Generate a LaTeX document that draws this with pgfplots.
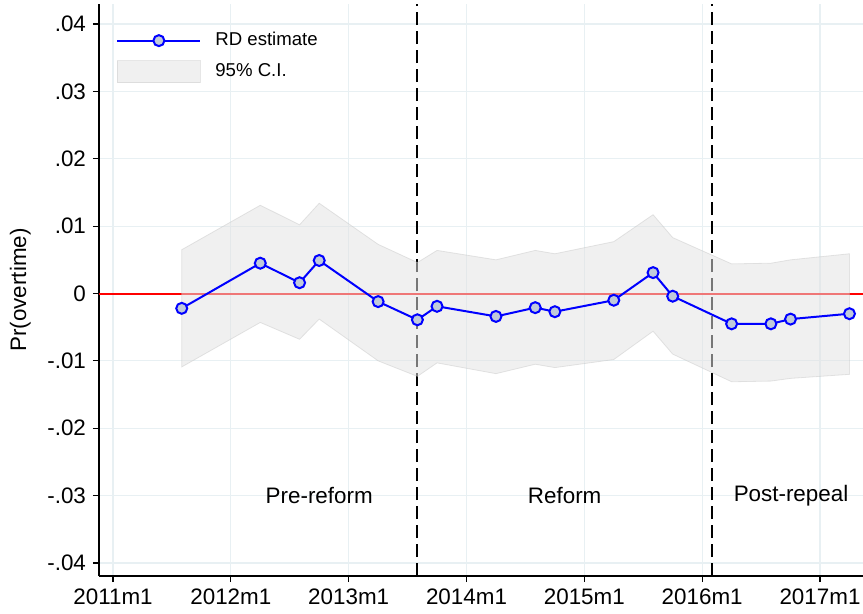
\documentclass[border=0pt]{standalone}
\usepackage{fontspec}
\setmainfont{Liberation Sans}
\usepackage{pgfplots}
\usepackage{pgfplotstable}
\pgfplotsset{compat=1.18}
\definecolor{gridc}{RGB}{232,240,243}
\definecolor{bandc}{RGB}{226,226,226}
\definecolor{mkfill}{RGB}{192,202,218}
\definecolor{zeroc}{RGB}{255,0,0}
\pgfplotsset{
  rdleg/.style={legend image code/.code={\draw[blue, line width=1pt, mark=*, mark size=2.75pt, mark options={fill=mkfill, draw=blue, line width=1pt}, mark repeat=2, mark phase=2] plot coordinates {(0pt,0pt) (20.75pt,0pt) (41.5pt,0pt)};}},
  cileg/.style={legend image code/.code={\draw[fill=bandc, fill opacity=0.53, draw=bandc!85!black, draw opacity=0.4] (0pt,-5.5pt) rectangle (41.5pt,5.5pt);}},
}
\pgfplotstableread{
m est
7 -0.0022
15 0.0045
19 0.0016
21 0.0049
27 -0.0012
31 -0.0039
33 -0.0019
39 -0.0034
43 -0.0021
45 -0.0027
51 -0.0010
55 0.0031
57 -0.0004
63 -0.0045
67 -0.0045
69 -0.0038
75 -0.0030
}\data
% 95% C.I. band: upper bounds left to right, then lower bounds right to left
\pgfplotstableread{
m ci
7 0.0065
15 0.0131
19 0.0102
21 0.0134
27 0.0073
31 0.0046
33 0.0064
39 0.0050
43 0.0064
45 0.0059
51 0.0077
55 0.0117
57 0.0083
63 0.0044
67 0.0045
69 0.0050
75 0.0059
75 -0.0120
69 -0.0126
67 -0.0130
63 -0.0131
57 -0.0090
55 -0.0056
51 -0.0098
45 -0.0110
43 -0.0105
39 -0.0119
33 -0.0103
31 -0.0123
27 -0.0100
21 -0.0038
19 -0.0068
15 -0.0043
7 -0.0109
}\band
\pgfplotstableread{
m z
-1.426 0
76.38 0
}\zero
\pgfplotstableread{
m z
31 -0.04193
31 0.04297
}\vlineA
\pgfplotstableread{
m z
61 -0.04193
61 0.04297
}\vlineB
\begin{document}
\begin{tikzpicture}
\begin{axis}[
  name=ax,
  set layers,
  scale only axis,
  width=382pt, height=286pt,
  xmin=-1.426, xmax=76.38,
  ymin=-0.04193, ymax=0.04297,
  scaled y ticks=false, scaled x ticks=false,
  axis x line*=bottom, axis y line*=left,
  axis line style={-, black, line width=0.75pt},
  tick align=outside,
  major tick length=3pt,
  tick style={black, line width=0.6pt},
  xtick={0,12,24,36,48,60,72},
  xticklabels={\textnormal{2011m1},\textnormal{2012m1},\textnormal{2013m1},\textnormal{2014m1},\textnormal{2015m1},\textnormal{2016m1},\textnormal{2017m1}},
  ytick={-0.04,-0.03,-0.02,-0.01,0,0.01,0.02,0.03,0.04},
  yticklabels={\textnormal{-.04},\textnormal{-.03},\textnormal{-.02},\textnormal{-.01},\textnormal{0},\textnormal{.01},\textnormal{.02},\textnormal{.03},\textnormal{.04}},
  ticklabel style={font=\fontsize{11.2}{13}\selectfont},
  grid=major,
  major grid style={gridc, line width=0.6pt},
  ylabel={Pr(overtime)},
  ylabel style={font=\fontsize{11.2}{13}\selectfont, at={(axis description cs:-0.103,0.5)}, anchor=center},
  legend style={at={(0,1)}, anchor=north west, xshift=5.5pt, yshift=-10pt, draw=none, fill=none,
    font=\fontsize{9.3}{10}\selectfont, row sep=3.5pt, cells={anchor=west},
    nodes={inner xsep=7pt}},
]
\addplot[color=zeroc, line width=1pt, forget plot, on layer=pre main] table[x=m, y=z]{\zero};
\addplot[color=black, line width=1pt, dash pattern=on 6.5pt off 3pt, forget plot, on layer=pre main] table[x=m, y=z]{\vlineA};
\addplot[color=black, line width=1pt, dash pattern=on 6.5pt off 3pt, forget plot, on layer=pre main] table[x=m, y=z]{\vlineB};
\addplot[fill=bandc, draw=bandc!85!black, line width=0.4pt, fill opacity=0.53, draw opacity=0.4, forget plot, on layer=main] table[x=m, y=ci]{\band} -- cycle;
\addplot[blue, line width=1pt, mark=*, mark size=2.75pt, mark options={fill=mkfill, draw=blue, line width=1pt}, forget plot, on layer=main] table[x=m, y=est]{\data};
\addlegendimage{rdleg}
\addlegendentry{RD estimate}
\addlegendimage{cileg}
\addlegendentry{95\% C.I.}
\node[font=\fontsize{11.2}{13}\selectfont] at (axis cs:21.0,-0.0300) {Pre-reform};
\node[font=\fontsize{11.2}{13}\selectfont] at (axis cs:46.0,-0.0300) {Reform};
\node[font=\fontsize{11.2}{13}\selectfont] at (axis cs:69.05,-0.0300) {Post-repeal};
\end{axis}
\pgfresetboundingbox
\path ([xshift=-49.5pt, yshift=-18.5pt]ax.south west) rectangle ([yshift=2pt]ax.north east);
\end{tikzpicture}
\end{document}
